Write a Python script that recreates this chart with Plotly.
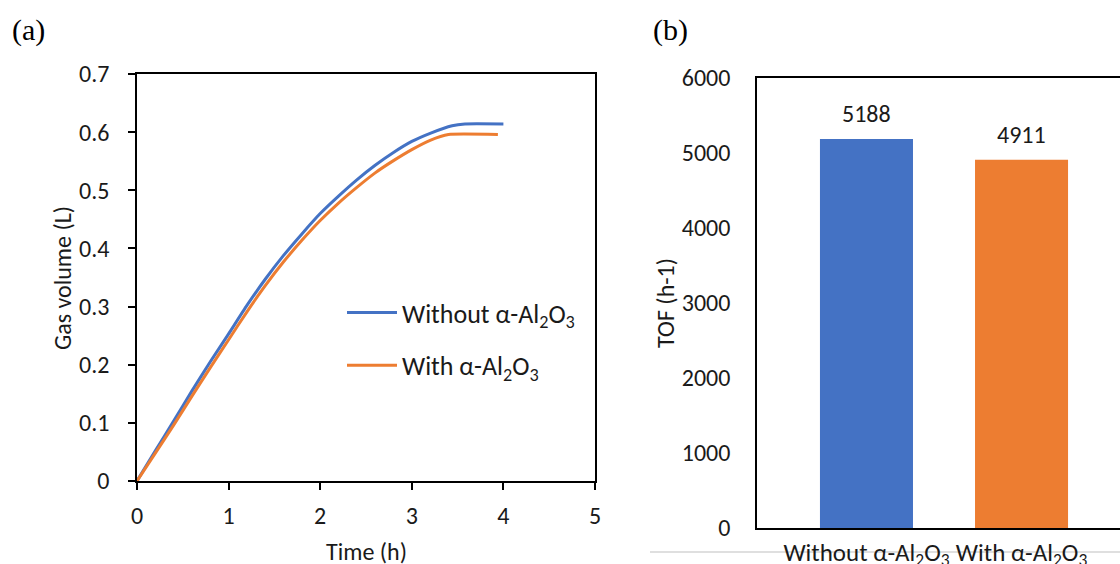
import plotly.graph_objects as go

# ---- Data ----
t_without = [0, 0.2, 0.4, 0.6, 0.8, 1.0, 1.2, 1.4, 1.6, 1.8, 2.0, 2.2, 2.4, 2.6, 2.8, 3.0, 3.2, 3.44, 3.58, 4.0]
v_without = [0, 0.052, 0.103, 0.155, 0.205, 0.253, 0.302, 0.347, 0.388, 0.425, 0.460, 0.490, 0.518, 0.543, 0.565, 0.584, 0.598, 0.611, 0.614, 0.614]
t_with = [0, 0.2, 0.4, 0.6, 0.8, 1.0, 1.2, 1.4, 1.6, 1.8, 2.0, 2.2, 2.4, 2.6, 2.8, 3.0, 3.2, 3.4, 3.94]
v_with = [0, 0.048, 0.096, 0.146, 0.195, 0.243, 0.291, 0.336, 0.377, 0.414, 0.448, 0.478, 0.505, 0.530, 0.551, 0.570, 0.586, 0.596, 0.596]

series_names = ["Without α-Al<sub>2</sub>O<sub>3</sub>", "With α-Al<sub>2</sub>O<sub>3</sub>"]
categories = ["Without α-Al<sub>2</sub>O<sub>3</sub>", "With α-Al<sub>2</sub>O<sub>3</sub>"]
tof_values = [5188, 4911]

BLUE = "#4472C4"
ORANGE = "#ED7D31"
FONT = "Calibri, Carlito, Lato, sans-serif"
SERIF = "Liberation Serif, Times New Roman, serif"
TXT = "#1a1a1a"
W, H = 1120, 564

def px(x):
    return x / W

def py(y):
    return 1 - y / H

fig = go.Figure()

fig.add_trace(go.Scatter(x=t_without, y=v_without, mode="lines", name=series_names[0],
                         line=dict(color=BLUE, width=3, shape="spline", smoothing=0.5),
                         xaxis="x", yaxis="y", legendgroup="a"))
fig.add_trace(go.Scatter(x=t_with, y=v_with, mode="lines", name=series_names[1],
                         line=dict(color=ORANGE, width=3, shape="spline", smoothing=0.5),
                         xaxis="x", yaxis="y", legendgroup="b"))

fig.add_trace(go.Bar(x=categories, y=tof_values, marker=dict(color=[BLUE, ORANGE], line=dict(width=0)),
                     xaxis="x2", yaxis="y2", showlegend=False, width=0.6))

annotations = []
for c, v in zip(categories, tof_values):
    annotations.append(dict(x=c, y=v, xref="x2", yref="y2", text=str(v), showarrow=False,
                            yanchor="bottom", yshift=9, font=dict(size=24, color=TXT, family=FONT)))

annotations += [
    dict(x=px(366), y=py(551), xref="paper", yref="paper", text="Time (h)", showarrow=False,
         xanchor="center", yanchor="middle", font=dict(size=24, color=TXT, family=FONT)),
    dict(x=px(62), y=py(278), xref="paper", yref="paper", text="Gas volume (L)", showarrow=False,
         xanchor="center", yanchor="middle", textangle=-90, font=dict(size=24, color=TXT, family=FONT)),
    dict(x=px(665), y=py(303), xref="paper", yref="paper", text="TOF (h-1)", showarrow=False,
         xanchor="center", yanchor="middle", textangle=-90, font=dict(size=24, color=TXT, family=FONT)),
    dict(x=px(10), y=py(30), xref="paper", yref="paper", text="(a)", showarrow=False,
         xanchor="left", yanchor="middle", font=dict(size=30, color="#000", family=SERIF)),
    dict(x=px(651), y=py(30), xref="paper", yref="paper", text="(b)", showarrow=False,
         xanchor="left", yanchor="middle", font=dict(size=30, color="#000", family=SERIF)),
]

tickfont = dict(size=24, color=TXT, family=FONT)

fig.update_layout(
    template="none",
    width=W, height=H,
    margin=dict(l=0, r=0, t=0, b=0, autoexpand=False),
    paper_bgcolor="white", plot_bgcolor="white",
    font=dict(family=FONT, color=TXT),
    showlegend=True,
    legend=dict(x=px(342), y=py(289), xanchor="left", yanchor="top",
                bgcolor="rgba(0,0,0,0)", font=dict(size=26, family=FONT, color=TXT),
                traceorder="grouped", tracegroupgap=16, itemwidth=50),
    xaxis=dict(domain=[px(137), px(595)], range=[0, 5], dtick=1, showgrid=False, zeroline=False,
               showline=True, linecolor="black", linewidth=1.5, mirror=True, automargin=False,
               ticks="outside", ticklen=7, tickcolor="black", tickwidth=1.5,
               tickfont=tickfont, ticklabelstandoff=5, anchor="y"),
    yaxis=dict(domain=[py(481), py(74)], range=[0, 0.7], dtick=0.1, showgrid=False, zeroline=False,
               showline=True, linecolor="black", linewidth=1.5, mirror=True, automargin=False,
               ticks="outside", ticklen=7, tickcolor="black", tickwidth=1.5,
               tickfont=tickfont, ticklabelstandoff=14, anchor="x", tickformat="~g"),
    xaxis2=dict(domain=[px(757), 1.0], range=[-0.706, 1.635], showgrid=False, zeroline=False,
                showline=True, linecolor="black", linewidth=1.5, mirror=True, automargin=False,
                ticks="", tickfont=dict(size=25, color=TXT, family=FONT), ticklabelstandoff=1, anchor="y2"),
    yaxis2=dict(domain=[py(528), py(78)], range=[0, 6000], dtick=1000, showgrid=False, zeroline=False,
                showline=True, linecolor="black", linewidth=1.5, mirror=False, automargin=False,
                ticks="", tickfont=tickfont, ticklabelstandoff=20, anchor="x2"),
    annotations=annotations,
    shapes=[dict(type="line", xref="paper", yref="paper", x0=px(650), x1=1.0, y0=py(552), y1=py(552),
                 line=dict(color="#BFBFBF", width=1), layer="below")],
)

fig.write_html("out.html")
